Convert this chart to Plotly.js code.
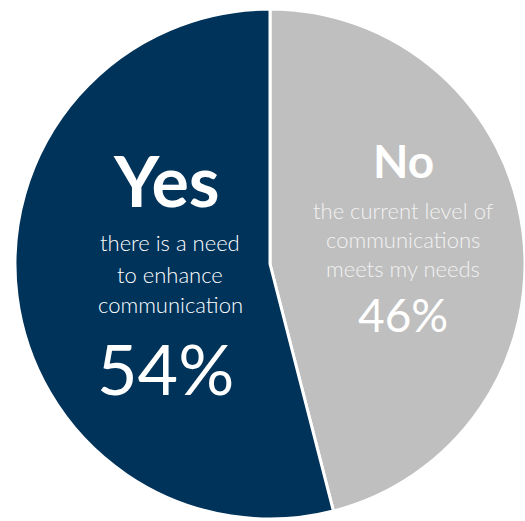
<!DOCTYPE html>
<html>
<head>
<meta charset="utf-8">
<script src="https://cdn.plot.ly/plotly-3.0.1.min.js"></script>
<style>html,body{margin:0;padding:0;background:#fff;}#chart{width:525px;height:521px;}</style>
</head>
<body>
<div id="chart"></div>
<script>
// Data (slice order: clockwise from 12 o'clock)
var labels = ['No', 'Yes'];
var values = [46, 54];
var colors = ['#BFBFBF', '#00335A'];
var yesLines = ['there is a need', 'to enhance', 'communication'];
var noLines = ['the current level of', 'communications', 'meets my needs'];

var W = 525, H = 521;
function px(x){ return x / W; }
function py(y){ return 1 - y / H; }

var trace = {
  type: 'pie',
  labels: labels,
  values: values,
  sort: false,
  direction: 'clockwise',
  rotation: 0,
  textinfo: 'none',
  hoverinfo: 'skip',
  marker: { colors: colors, line: { color: '#ffffff', width: 3 } },
  domain: { x: [15 / W, 525 / W], y: [(H - 519) / H, (H - 9) / H] },
  showlegend: false
};

var FONT = 'Lato, "Open Sans", sans-serif';
var ann = [];
function add(text, x, y, size, weight, color){
  ann.push({ text: text, x: px(x), y: py(y), xref: 'paper', yref: 'paper',
    xanchor: 'center', yanchor: 'middle', showarrow: false,
    font: { family: FONT, size: size, color: color, weight: weight } });
}
// Yes block
add('<b>' + labels[1] + '</b>', 166, 180, 70, 700, '#ffffff');
var yesY = [242, 274, 304];
yesLines.forEach(function(t, i){ add(t, 170, yesY[i], 22, 300, '#ffffff'); });
add(values[1] + '%', 165, 368, 70, 400, '#ffffff');
// No block
add('<b>' + labels[0] + '</b>', 403, 161, 46, 700, '#ffffff');
var noY = [210, 239, 268];
noLines.forEach(function(t, i){ add(t, 403, noY[i], 22, 300, '#f2f2f2'); });
add(values[0] + '%', 403, 314, 46, 400, '#ffffff');

var layout = {
  width: W, height: H,
  margin: { l: 0, r: 0, t: 0, b: 0, pad: 0 },
  paper_bgcolor: '#ffffff',
  plot_bgcolor: '#ffffff',
  annotations: ann,
  showlegend: false
};
Plotly.newPlot('chart', [trace], layout, { displayModeBar: false, staticPlot: true });
</script>
</body>
</html>
